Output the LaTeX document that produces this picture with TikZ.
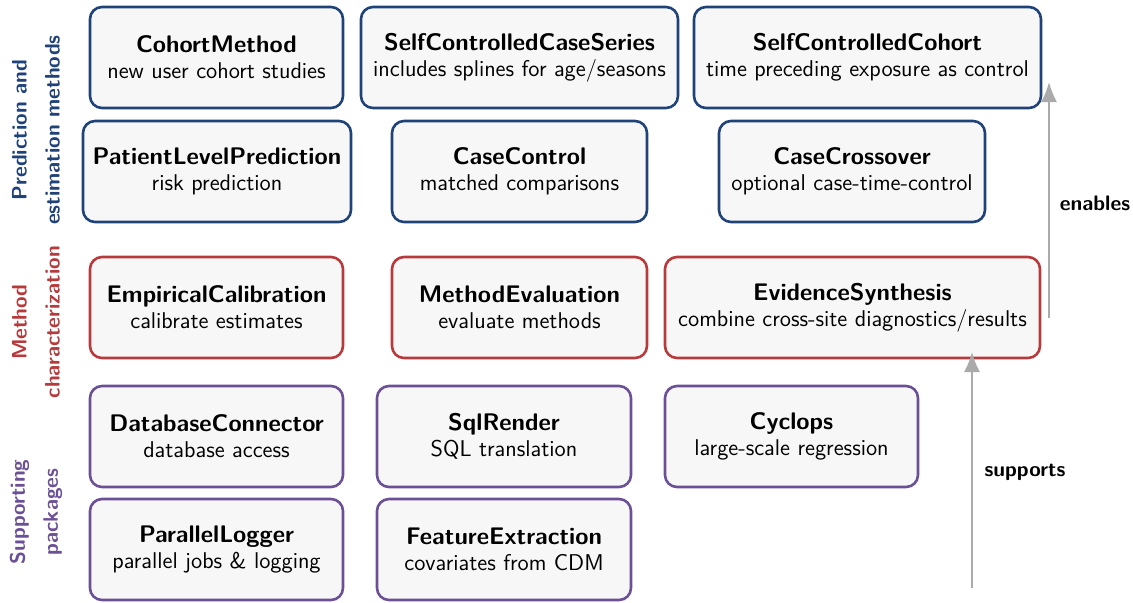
\documentclass[tikz,border=0pt]{standalone}
\usetikzlibrary{arrows.meta}
\renewcommand{\familydefault}{\sfdefault}
\definecolor{estblue}{RGB}{31,66,120}
\definecolor{charred}{RGB}{183,58,60}
\definecolor{suppurple}{RGB}{108,80,150}
\definecolor{boxfill}{RGB}{247,247,247}
\definecolor{arrowgray}{RGB}{170,170,170}
\tikzset{
  pkg/.style={draw, fill=boxfill, rounded corners=6pt, line width=1.3pt,
    minimum height=50.5pt, minimum width=126.5pt, align=center, inner sep=0pt},
  est/.style={pkg, draw=estblue},
  char/.style={pkg, draw=charred},
  supp/.style={pkg, draw=suppurple},
  grouplabel/.style={rotate=90, align=center, font=\fontsize{10.5}{16.5}\selectfont\bfseries},
  flow/.style={draw=arrowgray, line width=1pt, -{Latex[length=10pt,width=8pt]}},
  flowlabel/.style={font=\fontsize{10.5}{12}\selectfont\bfseries}
}
\newcommand{\pkgtext}[2]{{\large\bfseries #1}\\[1pt]{\fontsize{11.4}{13}\selectfont #2}}
\begin{document}
\begin{tikzpicture}[x=0.5pt,y=-0.5pt]
\useasboundingbox (0,0) rectangle (1133,602);
% Prediction and estimation methods
\node[est] (cohort) at (216.5,57.5) {\pkgtext{CohortMethod}{new user cohort studies}};
\node[est, minimum width=158.5pt] (sccs) at (519.5,57.5) {\pkgtext{SelfControlledCaseSeries}{includes splines for age/seasons}};
\node[est, minimum width=173.5pt] (scc) at (867.5,57.5) {\pkgtext{SelfControlledCohort}{time preceding exposure as control}};
\node[est, minimum width=134pt] (plp) at (217,171.5) {\pkgtext{PatientLevelPrediction}{risk prediction}};
\node[est, minimum width=127.5pt] (cc) at (519.5,171.5) {\pkgtext{CaseControl}{matched comparisons}};
\node[est, minimum width=133pt] (ccr) at (852,171.5) {\pkgtext{CaseCrossover}{optional case-time-control}};
% Method characterization
\node[char] (empcal) at (216.5,307.5) {\pkgtext{EmpiricalCalibration}{calibrate estimates}};
\node[char, minimum width=127.5pt] (meval) at (519.5,307.5) {\pkgtext{MethodEvaluation}{evaluate methods}};
\node[char, minimum width=187.5pt] (evsyn) at (852.5,307.5) {\pkgtext{EvidenceSynthesis}{combine cross-site diagnostics/results}};
% Supporting packages
\node[supp] (dbconn) at (216.5,436.5) {\pkgtext{DatabaseConnector}{database access}};
\node[supp, minimum width=127pt] (sqlr) at (504,436.5) {\pkgtext{SqlRender}{SQL translation}};
\node[supp] (cyclops) at (791.5,436.5) {\pkgtext{Cyclops}{large-scale regression}};
\node[supp] (plog) at (216.5,549.5) {\pkgtext{ParallelLogger}{parallel jobs \& logging}};
\node[supp, minimum width=127pt] (fext) at (504,549.5) {\pkgtext{FeatureExtraction}{covariates from CDM}};
% Group labels
\node[grouplabel, text=estblue] (lblest) at (36,130) {Prediction and\\estimation methods};
\node[grouplabel, text=charred] (lblchar) at (36,322) {Method\\characterization};
\node[grouplabel, text=suppurple] (lblsupp) at (36,512) {Supporting\\packages};
% Arrows between layers
\coordinate (suppstart) at (972,588);
\coordinate (suppend) at (972,352);
\coordinate (enstart) at (1049,318);
\coordinate (enend) at (1049,82);
\draw[flow] (suppstart) -- (suppend);
\draw[flow] (enstart) -- (enend);
\node[flowlabel] (lblsupports) at (1025,472) {supports};
\node[flowlabel] (lblenables) at (1095,203) {enables};
\end{tikzpicture}
\end{document}
